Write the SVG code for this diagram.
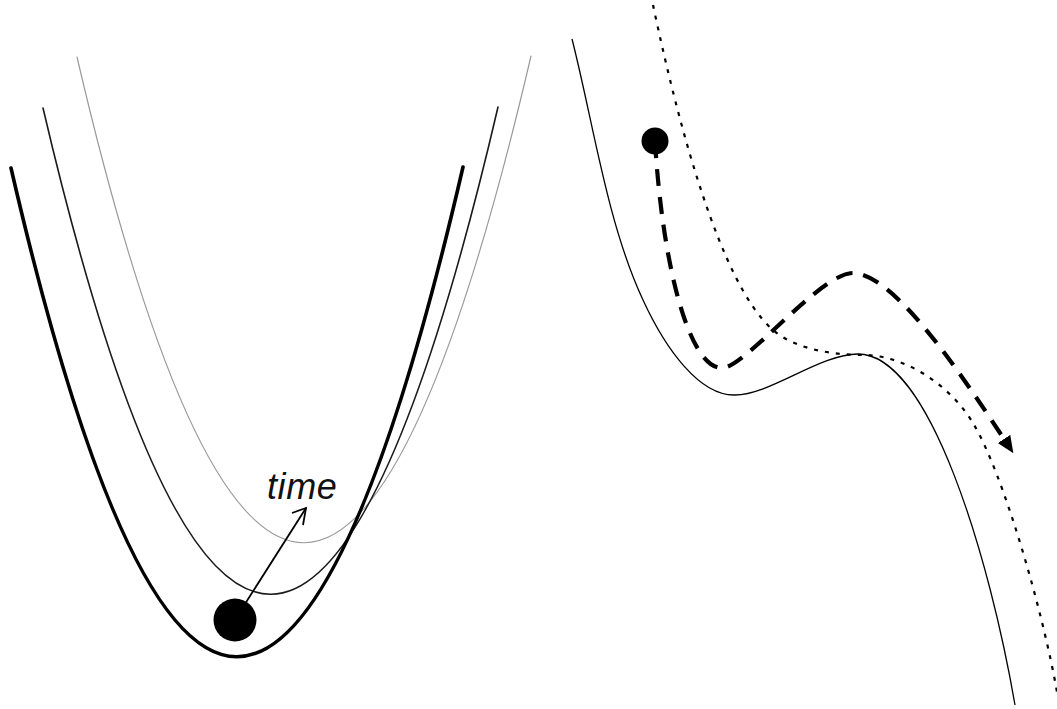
<svg xmlns="http://www.w3.org/2000/svg" width="1057" height="709" viewBox="0 0 1057 709">
  <style>
    .curve { fill: none; stroke-linecap: round; }
    .thick { stroke: #000; stroke-width: 3.6; }
    .mid { stroke: #1a1a1a; stroke-width: 1.6; }
    .light { stroke: #9a9a9a; stroke-width: 1.2; }
    .solid { fill: none; stroke: #000; stroke-width: 1.3; }
    .dotted { fill: none; stroke: #000; stroke-width: 2.2; stroke-dasharray: 4 7; }
    .dashed { fill: none; stroke: #000; stroke-width: 4.2; stroke-dasharray: 17 11; }
    .ball { fill: #000; }
    .label { font-family: "Liberation Sans", Arial, sans-serif; font-style: italic; font-size: 36px; letter-spacing: 0.6px; fill: #111; }
  </style>
  <defs>
    <marker id="tri" markerUnits="userSpaceOnUse" viewBox="0 -8 18 16" markerWidth="18" markerHeight="16" refX="0" refY="0" orient="auto">
      <path d="M0,-7.5 L17,0 L0,7.5 z" fill="#000"/>
    </marker>
  </defs>
  <rect width="1057" height="709" fill="#fff"/>

  <g id="left-panel">
    <g id="curve-light">
      <path class="curve light" d="M77,57 Q304,1029 531,56"/>
    </g>
    <g id="curve-mid">
      <path class="curve mid" d="M43,108 Q271,1081 498,107"/>
    </g>
    <g id="curve-thick">
      <path class="curve thick" d="M11,168 Q237,1146 463,167"/>
    </g>
    <g id="ball-left">
      <circle class="ball" cx="235" cy="620" r="21.5"/>
    </g>
    <g id="time-arrow">
      <line x1="236" y1="618" x2="306" y2="508" stroke="#000" stroke-width="1.8"/>
      <polyline points="292,513 306,508 303,525" fill="none" stroke="#000" stroke-width="1.8" stroke-linejoin="miter"/>
    </g>
    <g id="time-label">
      <text class="label" x="267" y="499">time</text>
    </g>
  </g>

  <g id="right-panel">
    <g id="solid-curve">
      <path class="solid" d="M572,39 C593,121 607,223 643,300 C666,350 700,396 735,395 C770,395 820,354 858,354 C930,354 990,560 1015,705"/>
    </g>
    <g id="dotted-curve">
      <path class="dotted" d="M653,5 C678,123 720,284 773,330 C796,350 835,355 863,355 C905,355 950,385 973,423 C1004,475 1043,612 1057,692"/>
    </g>
    <g id="ball-right">
      <circle class="ball" cx="655" cy="141" r="13.5"/>
    </g>
  </g>

  <g id="connectors">
    <path class="dashed" marker-end="url(#tri)" d="M655,141 C662,260 688,368 722,368 C745,368 820,273 853,273 C892,274 952,360 1004,439"/>
  </g>
</svg>
